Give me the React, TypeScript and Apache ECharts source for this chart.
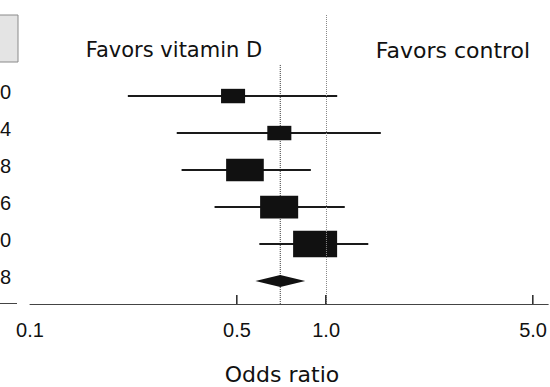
import React, { useEffect, useRef } from "react";
import * as echarts from "echarts";

// Study-level data (odds ratios, 95% CI), top to bottom
const rowLabels = ["0", "4", "8", "6", "0", "8"];
const studyOR = [0.485, 0.695, 0.532, 0.694, 0.918];
const ciLow = [0.214, 0.313, 0.325, 0.42, 0.595];
const ciHigh = [1.09, 1.53, 0.888, 1.156, 1.388];
const weights = [9.7, 9.7, 23.8, 24.3, 32.5];
const pooledOR = 0.7;
const pooledLow = 0.577;
const pooledHigh = 0.85;
const tickLabelValues = [0.1, 0.5, 1.0, 5.0];
const tickMarkValues = [0.5, 1.0, 5.0];
const headerLeft = "Favors vitamin D";
const headerRight = "Favors control";
const axisTitle = "Odds ratio";

const L = (v: number) => Math.log10(v);

export default function App() {
  const ref = useRef<HTMLDivElement>(null);
  useEffect(() => {
    if (!ref.current) return;
    const chart = echarts.init(ref.current, null, { renderer: "svg" });
    const yMin = -2.19;
    const yMax = 5.62;
    const studyData = studyOR.map((v, i) => [L(v), L(ciLow[i]), L(ciHigh[i]), i, weights[i]]);
    const pooledRow = studyOR.length;
    const rowY = (i: number) => 96 + i * 37;
    const baseGraphic: any[] = [
      {
        type: "rect",
        shape: { x: -1, y: 15, width: 19, height: 47 },
        style: { fill: "#e4e4e4", stroke: "#8a8a8a", lineWidth: 1 },
      },
      {
        type: "line",
        shape: { x1: 0, y1: 303.5, x2: 17, y2: 303.5 },
        style: { stroke: "#444", lineWidth: 1 },
      },
      {
        type: "text",
        x: 174,
        y: 50,
        style: {
          text: headerLeft,
          fontFamily: "DejaVu Sans",
          fontSize: 21,
          fill: "#111",
          textAlign: "center",
          textVerticalAlign: "middle",
        },
      },
      {
        type: "text",
        x: 453,
        y: 50,
        style: {
          text: headerRight,
          fontFamily: "DejaVu Sans",
          fontSize: 22,
          fill: "#111",
          textAlign: "center",
          textVerticalAlign: "middle",
        },
      },
      {
        type: "text",
        x: 282,
        y: 374,
        style: {
          text: axisTitle,
          fontFamily: "DejaVu Sans",
          fontSize: 22,
          fill: "#111",
          textAlign: "center",
          textVerticalAlign: "middle",
        },
      },
      ...rowLabels.map((t, i) => ({
        type: "text",
        x: 11,
        y: rowY(i) - 4,
        style: {
          text: t,
          fontFamily: "Liberation Sans",
          fontSize: 20,
          fill: "#111",
          textAlign: "right",
          textVerticalAlign: "middle",
        },
      })),
    ];
    const option: any = {
      animation: false,
      grid: { left: 30, right: 0, top: 15, bottom: 387 - 304 },
      xAxis: {
        type: "value",
        min: -1,
        max: 0.75,
        axisLine: { show: true, onZero: false, lineStyle: { color: "#444", width: 1 } },
        axisTick: { show: false },
        axisLabel: {
          customValues: tickLabelValues.map(L),
          formatter: (v: number) => Math.pow(10, v).toFixed(1),
          fontFamily: "Liberation Sans",
          fontSize: 20,
          color: "#111",
          margin: 16,
        },
        splitLine: { show: false },
      },
      yAxis: { type: "value", min: yMin, max: yMax, inverse: true, show: false },
      series: [
        {
          type: "line",
          data: [[L(pooledOR), -0.84], [L(pooledOR), yMax]],
          symbol: "none",
          lineStyle: { type: "dotted", color: "#333", width: 1 },
          markLine: {
            silent: true,
            symbol: "none",
            label: { show: false },
            lineStyle: { type: "dotted", color: "#888", width: 1 },
            data: [{ xAxis: 0 }],
          },
          z: 1,
        },
        {
          type: "custom",
          data: studyData,
          encode: { x: [0, 1, 2], y: 3 },
          z: 3,
          renderItem: (params: any, api: any) => {
            const y = api.value(3);
            const c = api.coord([api.value(0), y]);
            const lo = api.coord([api.value(1), y]);
            const hi = api.coord([api.value(2), y]);
            const w = 7.72 * Math.sqrt(api.value(4));
            const h = w * 0.6;
            return {
              type: "group",
              children: [
                {
                  type: "line",
                  shape: { x1: lo[0], y1: c[1], x2: hi[0], y2: c[1] },
                  style: { stroke: "#1a1a1a", lineWidth: 2 },
                },
                {
                  type: "rect",
                  shape: { x: c[0] - w / 2, y: c[1] - h / 2, width: w, height: h },
                  style: { fill: "#111" },
                },
              ],
            };
          },
        },
        {
          type: "custom",
          data: [[L(pooledOR), L(pooledLow), L(pooledHigh), pooledRow]],
          encode: { x: [0, 1, 2], y: 3 },
          z: 3,
          renderItem: (params: any, api: any) => {
            const y = api.value(3);
            const c = api.coord([api.value(0), y]);
            const lo = api.coord([api.value(1), y]);
            const hi = api.coord([api.value(2), y]);
            return {
              type: "polygon",
              shape: {
                points: [
                  [lo[0], c[1]],
                  [c[0], c[1] - 6],
                  [hi[0], c[1]],
                  [c[0], c[1] + 6],
                ],
              },
              style: { fill: "#111" },
            };
          },
        },
      ],
      graphic: baseGraphic,
    };
    chart.setOption(option);
    // axis tick marks pointing upward, positioned with the chart's own scale
    const tickGraphic = tickMarkValues.map((v) => {
      const p = chart.convertToPixel({ gridIndex: 0 }, [L(v), yMax]) as number[];
      return {
        type: "rect",
        shape: { x: Math.round(p[0]) - 1, y: p[1] - 9, width: 1.6, height: 9 },
        style: { fill: "#333" },
        z: 10,
      };
    });
    chart.setOption({ graphic: [...baseGraphic, ...tickGraphic] }, { replaceMerge: ["graphic"] });
    return () => chart.dispose();
  }, []);
  return (
    <div
      ref={ref}
      style={{ position: "fixed", left: 0, top: 0, width: 550, height: 387, background: "#fff" }}
    />
  );
}
